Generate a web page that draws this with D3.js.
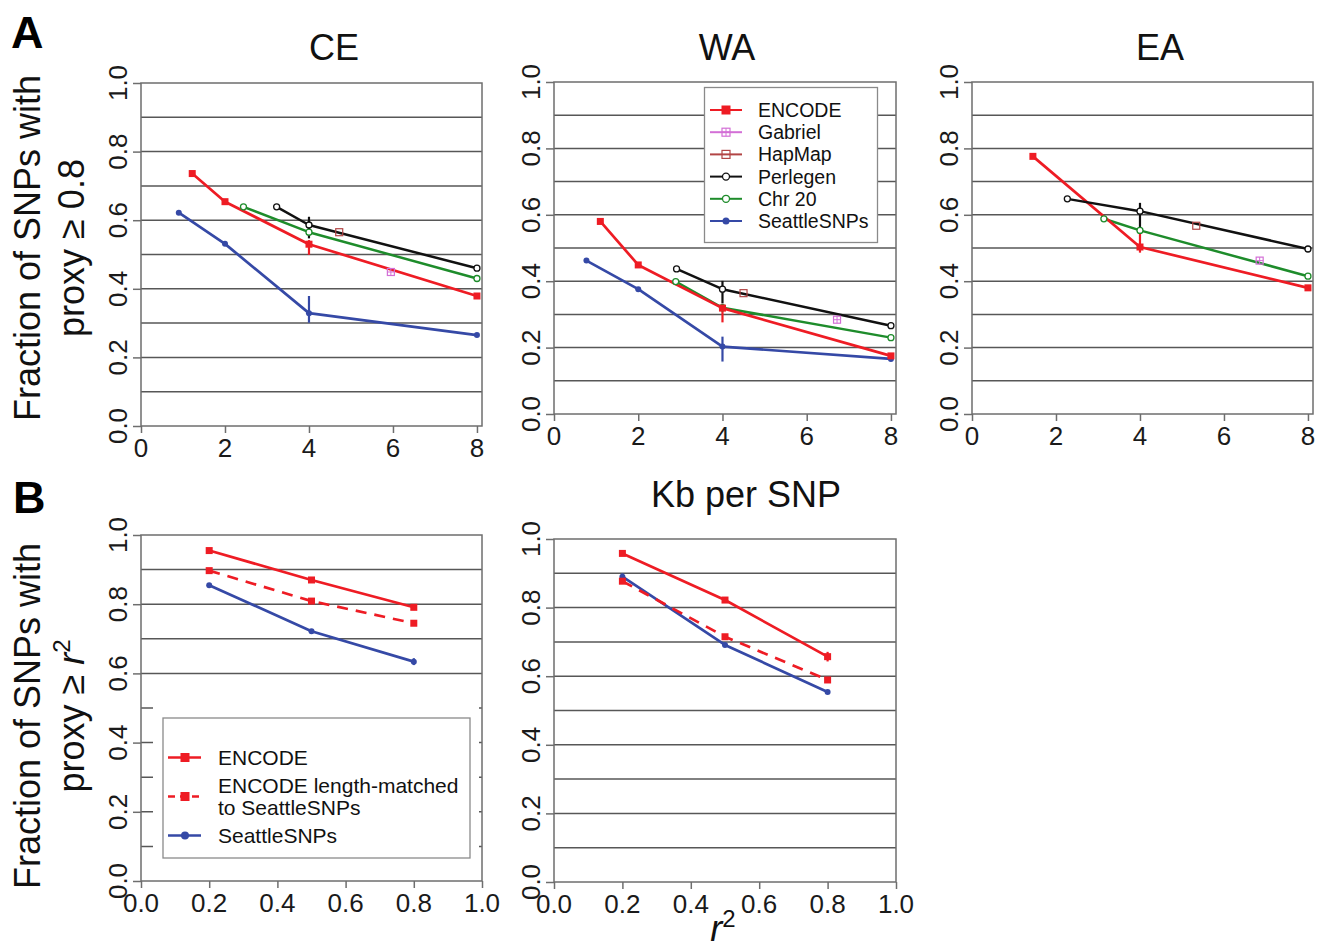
<!DOCTYPE html>
<html>
<head>
<meta charset="utf-8">
<script src="https://cdn.jsdelivr.net/npm/d3@7"></script>
<style>
  html, body { margin: 0; padding: 0; background: #fff; }
  svg { display: block; font-family: "Liberation Sans", Arial, Helvetica, sans-serif; }
</style>
</head>
<body>
<svg id="chart" width="1319" height="951"></svg>
<script>
// ---------- data ----------
const xTicksA = [0, 2, 4, 6, 8];
const xTicksB = [0.0, 0.2, 0.4, 0.6, 0.8, 1.0];
const yTicks = [0.0, 0.2, 0.4, 0.6, 0.8, 1.0];
const gridLevels = [0.1, 0.2, 0.3, 0.4, 0.5, 0.6, 0.7, 0.8, 0.9];
const populations = ["CE", "WA", "EA"];
const seriesA = ["ENCODE", "Gabriel", "HapMap", "Perlegen", "Chr 20", "SeattleSNPs"];
const seriesB = ["ENCODE", "ENCODE length-matched to SeattleSNPs", "SeattleSNPs"];

// Panel A: kb per SNP (x) vs fraction of SNPs with proxy r2 >= 0.8 (y)
const ceENCODE   = [[1.22, 0.736], [2.0, 0.654], [4.0, 0.530], [8.0, 0.379]];
const ceGabriel  = [[5.95, 0.449]];
const ceHapMap   = [[4.72, 0.565]];
const cePerlegen = [[3.23, 0.639], [4.0, 0.586], [8.0, 0.460]];
const ceChr20    = [[2.44, 0.639], [4.0, 0.565], [8.0, 0.430]];
const ceSeattle  = [[0.90, 0.622], [2.0, 0.531], [4.0, 0.329], [8.0, 0.265]];
const ceErrors   = [["ENCODE", 4, 0.499, 0.542], ["Perlegen", 4, 0.547, 0.610], ["SeattleSNPs", 4, 0.301, 0.379]];

const waENCODE   = [[1.10, 0.580], [2.0, 0.449], [4.0, 0.319], [8.0, 0.175]];
const waGabriel  = [[6.72, 0.284]];
const waHapMap   = [[4.50, 0.364]];
const waPerlegen = [[2.91, 0.437], [4.0, 0.376], [8.0, 0.266]];
const waChr20    = [[2.89, 0.399], [4.0, 0.320], [8.0, 0.230]];
const waSeattle  = [[0.77, 0.462], [2.0, 0.376], [4.0, 0.203], [8.0, 0.166]];
const waErrors   = [["ENCODE", 4, 0.276, 0.330], ["Perlegen", 4, 0.333, 0.401], ["SeattleSNPs", 4, 0.158, 0.233]];

const eaENCODE   = [[1.45, 0.776], [4.0, 0.503], [8.0, 0.380]];
const eaGabriel  = [[6.85, 0.462]];
const eaHapMap   = [[5.34, 0.567]];
const eaPerlegen = [[2.27, 0.648], [4.0, 0.611], [8.0, 0.497]];
const eaChr20    = [[3.14, 0.588], [4.0, 0.553], [8.0, 0.415]];
const eaSeattle  = [];
const eaErrors   = [["ENCODE", 4, 0.486, 0.550], ["Perlegen", 4, 0.554, 0.636]];

// Panel B: r2 threshold (x) vs fraction of SNPs with proxy >= r2 (y)
const r2Levels = [0.2, 0.5, 0.8];
const b1ENCODE  = [0.955, 0.870, 0.791];
const b1Matched = [0.897, 0.809, 0.745];
const b1Seattle = [0.855, 0.722, 0.634];
const b1Errors  = [["SeattleSNPs", 0.8, 0.624, 0.644], ["ENCODE", 0.8, 0.783, 0.799]];
const b2ENCODE  = [0.958, 0.822, 0.657];
const b2Matched = [0.877, 0.715, 0.589];
const b2Seattle = [0.890, 0.691, 0.554];
const b2Errors  = [["ENCODE", 0.8, 0.643, 0.671], ["SeattleSNPs", 0.2, 0.880, 0.900]];

// ---------- styles ----------
const style = {
  "ENCODE":      { color: "#ee1c24", marker: "squareFilled", width: 2.7 },
  "Gabriel":     { color: "#d36fd6", marker: "squareCross",  width: 2 },
  "HapMap":      { color: "#b24545", marker: "squareOpen",   width: 2 },
  "Perlegen":    { color: "#111111", marker: "circleOpen",   width: 2.5 },
  "Chr 20":      { color: "#1e8c2b", marker: "circleOpen",   width: 2.5 },
  "SeattleSNPs": { color: "#3549a6", marker: "circleFilled", width: 2.7 },
  "ENCODE length-matched to SeattleSNPs": { color: "#ee1c24", marker: "squareFilled", width: 2.7, dash: "11,8" }
};
const gridColor = "#575757";
const frameColor = "#6e6e6e";
const FONT = "'Liberation Sans', Arial, Helvetica, sans-serif";

const svg = d3.select("#chart");

function drawMarker(g, kind, color, x, y, size) {
  const s = size || 8;
  if (kind === "squareFilled") {
    g.append("rect").attr("x", x - s / 2).attr("y", y - s / 2).attr("width", s).attr("height", s)
      .attr("fill", color);
  } else if (kind === "squareOpen" || kind === "squareCross") {
    g.append("rect").attr("x", x - s / 2).attr("y", y - s / 2).attr("width", s).attr("height", s)
      .attr("fill", "none").attr("stroke", color).attr("stroke-width", 1.2);
    if (kind === "squareCross") {
      g.append("path").attr("d", `M${x - s / 2},${y}H${x + s / 2}M${x},${y - s / 2}V${y + s / 2}`)
        .attr("stroke", color).attr("stroke-width", 1);
    }
  } else if (kind === "circleOpen") {
    g.append("circle").attr("cx", x).attr("cy", y).attr("r", s / 2 - 0.5)
      .attr("fill", "#fff").attr("stroke", color).attr("stroke-width", 1.3);
  } else if (kind === "circleFilled") {
    g.append("circle").attr("cx", x).attr("cy", y).attr("r", s / 2 - 0.5).attr("fill", color);
  }
}

function drawPanel(opt) {
  const g = svg.append("g");
  const x = d3.scaleLinear().domain(opt.xDomain).range([opt.l, opt.r]);
  const y = d3.scaleLinear().domain([0, 1]).range([opt.b, opt.t]);

  // horizontal grid
  g.selectAll("line.grid").data(gridLevels).enter().append("line")
    .attr("x1", opt.l).attr("x2", opt.r)
    .attr("y1", d => y(d)).attr("y2", d => y(d))
    .attr("stroke", gridColor).attr("stroke-width", 1.5);

  // outward tick marks on the left axis
  const yAxis = d3.axisLeft(y).tickValues(yTicks).tickSize(8).tickFormat("");
  g.append("g").attr("transform", `translate(${opt.l},0)`).call(yAxis)
    .call(s => s.select(".domain").remove())
    .call(s => s.selectAll("line").attr("stroke", frameColor).attr("stroke-width", 1.5));
  // outward tick marks on the bottom axis
  const xAxis = d3.axisBottom(x).tickValues(opt.xTicks).tickSize(7).tickFormat("");
  g.append("g").attr("transform", `translate(0,${opt.b})`).call(xAxis)
    .call(s => s.select(".domain").remove())
    .call(s => s.selectAll("line").attr("stroke", frameColor).attr("stroke-width", 1.5));

  // rotated y tick labels
  g.selectAll("text.ytl").data(yTicks).enter().append("text")
    .attr("transform", d => `translate(${opt.l - 14},${y(d)}) rotate(-90)`)
    .attr("text-anchor", "middle").attr("font-size", 26).attr("fill", "#1a1a1a")
    .attr("font-family", FONT)
    .text(d => d.toFixed(1));
  // x tick labels
  g.selectAll("text.xtl").data(opt.xTicks).enter().append("text")
    .attr("x", d => x(d)).attr("y", opt.b + 31)
    .attr("text-anchor", "middle").attr("font-size", 26).attr("fill", "#1a1a1a")
    .attr("font-family", FONT)
    .text(d => opt.xFormat(d));

  // plot frame
  g.append("rect").attr("x", opt.l).attr("y", opt.t)
    .attr("width", opt.r - opt.l).attr("height", opt.b - opt.t)
    .attr("fill", "none").attr("stroke", frameColor).attr("stroke-width", 1.5);

  if (opt.cover) {
    g.append("rect").attr("x", opt.cover[0]).attr("y", opt.cover[1])
      .attr("width", opt.cover[2]).attr("height", opt.cover[3]).attr("fill", "#fff");
  }

  // series lines
  const line = d3.line().x(d => x(d[0])).y(d => y(d[1]));
  opt.series.forEach(s => {
    const st = style[s.name];
    if (s.points.length > 1) {
      g.append("path").attr("d", line(s.points))
        .attr("fill", "none").attr("stroke", st.color).attr("stroke-width", st.width)
        .attr("stroke-dasharray", st.dash || null).attr("stroke-linejoin", "round");
    }
  });
  // error bars
  opt.errors.forEach(e => {
    const st = style[e[0]];
    g.append("line").attr("x1", x(e[1])).attr("x2", x(e[1]))
      .attr("y1", y(e[2])).attr("y2", y(e[3]))
      .attr("stroke", st.color).attr("stroke-width", 2.2);
  });
  // markers
  opt.series.forEach(s => {
    const st = style[s.name];
    s.points.forEach(p => drawMarker(g, st.marker, st.color, x(p[0]), y(p[1]), opt.markerSize));
  });

  return { g, x, y };
}

// ---------- panel A ----------
const fmtInt = d => String(d);
const fmtOne = d => d.toFixed(1);
const panelA = [
  { l: 141, r: 482, t: 83, b: 426, title: populations[0], tx: 334,
    data: [ceENCODE, ceGabriel, ceHapMap, cePerlegen, ceChr20, ceSeattle], errors: ceErrors },
  { l: 554, r: 896, t: 82, b: 414, title: populations[1], tx: 727,
    data: [waENCODE, waGabriel, waHapMap, waPerlegen, waChr20, waSeattle], errors: waErrors },
  { l: 972, r: 1313, t: 82, b: 414, title: populations[2], tx: 1160,
    data: [eaENCODE, eaGabriel, eaHapMap, eaPerlegen, eaChr20, eaSeattle], errors: eaErrors }
];
// draw in stacking order: Gabriel/HapMap singles, Seattle, Chr 20, ENCODE, Perlegen
const orderA = [1, 2, 5, 4, 0, 3];
panelA.forEach(p => {
  drawPanel({
    l: p.l, r: p.r, t: p.t, b: p.b, xDomain: [0, 8.12], xTicks: xTicksA, xFormat: fmtInt,
    series: orderA.map(i => ({ name: seriesA[i], points: p.data[i] })),
    errors: p.errors, markerSize: 7
  });
  svg.append("text").attr("x", p.tx).attr("y", 60).attr("text-anchor", "middle")
    .attr("font-size", 36).attr("font-family", FONT).attr("fill", "#111").text(p.title);
});

// legend for panel A (inside WA)
{
  const lg = svg.append("g");
  lg.append("rect").attr("x", 704.5).attr("y", 87.5).attr("width", 173).attr("height", 155)
    .attr("fill", "#fff").attr("stroke", "#8a8a8a").attr("stroke-width", 1.3);
  seriesA.forEach((name, i) => {
    const st = style[name];
    const yy = 110 + i * 22.2;
    lg.append("line").attr("x1", 710).attr("x2", 742).attr("y1", yy).attr("y2", yy)
      .attr("stroke", st.color).attr("stroke-width", 2);
    drawMarker(lg, st.marker, st.color, 726, yy, name === "ENCODE" ? 9 : 8);
    lg.append("text").attr("x", 758).attr("y", yy + 7).attr("font-size", 19.5)
      .attr("font-family", FONT).attr("fill", "#111").text(name);
  });
}

// ---------- panel B ----------
const toPts = vals => vals.map((v, i) => [r2Levels[i], v]);
drawPanel({
  l: 141, r: 482, t: 535, b: 881, xDomain: [0, 1], xTicks: xTicksB, xFormat: fmtOne,
  series: [
    { name: seriesB[2], points: toPts(b1Seattle) },
    { name: seriesB[1], points: toPts(b1Matched) },
    { name: seriesB[0], points: toPts(b1ENCODE) }
  ],
  errors: b1Errors, markerSize: 7, cover: [153, 690, 326, 185]
});
drawPanel({
  l: 554, r: 896, t: 539, b: 882, xDomain: [0, 1], xTicks: xTicksB, xFormat: fmtOne,
  series: [
    { name: seriesB[2], points: toPts(b2Seattle) },
    { name: seriesB[1], points: toPts(b2Matched) },
    { name: seriesB[0], points: toPts(b2ENCODE) }
  ],
  errors: b2Errors, markerSize: 7
});
svg.append("text").attr("x", 746).attr("y", 507).attr("text-anchor", "middle")
  .attr("font-size", 36).attr("font-family", FONT).attr("fill", "#111").text("Kb per SNP");

// legend for panel B
{
  const lg = svg.append("g");
  lg.append("rect").attr("x", 163).attr("y", 718).attr("width", 307).attr("height", 140)
    .attr("fill", "#fff").attr("stroke", "#8a8a8a").attr("stroke-width", 1.3);
  const rows = [
    { name: seriesB[0], y: 757.5, lines: ["ENCODE"] },
    { name: seriesB[1], y: 796.5, lines: ["ENCODE length-matched", "to SeattleSNPs"] },
    { name: seriesB[2], y: 835.5, lines: ["SeattleSNPs"] }
  ];
  rows.forEach(r => {
    const st = style[r.name];
    lg.append("line").attr("x1", 168).attr("x2", 201).attr("y1", r.y).attr("y2", r.y)
      .attr("stroke", st.color).attr("stroke-width", 2.6)
      .attr("stroke-dasharray", st.dash ? "7,5" : null);
    drawMarker(lg, st.marker, st.color, 185, r.y, 9);
    const t = lg.append("text").attr("x", 218).attr("font-size", 21)
      .attr("font-family", FONT).attr("fill", "#111");
    if (r.lines.length === 1) {
      t.attr("y", r.y + 7.5).text(r.lines[0]);
    } else {
      t.attr("y", r.y - 4);
      t.append("tspan").attr("x", 218).text(r.lines[0]);
      t.append("tspan").attr("x", 218).attr("dy", 22.5).text(r.lines[1]);
    }
  });
}

// shared x-axis title for panel B
{
  const t = svg.append("text").attr("x", 723).attr("y", 941).attr("text-anchor", "middle")
    .attr("font-size", 36).attr("font-family", FONT).attr("fill", "#111");
  t.append("tspan").attr("font-style", "italic").text("r");
  t.append("tspan").attr("font-size", 24).attr("dy", -14).text("2");
}

// ---------- y-axis titles ----------
function yTitle(cy, line2) {
  svg.append("text").attr("transform", `translate(40,${cy}) rotate(-90)`)
    .attr("text-anchor", "middle").attr("font-size", 36).attr("font-family", FONT)
    .attr("fill", "#111").text("Fraction of SNPs with");
  const t = svg.append("text").attr("transform", `translate(84,${cy}) rotate(-90)`)
    .attr("text-anchor", "middle").attr("font-size", 36).attr("font-family", FONT)
    .attr("fill", "#111");
  line2(t);
}
yTitle(248, t => t.text("proxy \u2265 0.8"));
yTitle(716, t => {
  t.append("tspan").text("proxy \u2265 ");
  t.append("tspan").attr("font-style", "italic").text("r");
  t.append("tspan").attr("font-size", 24).attr("dy", -14).text("2");
});

// panel letters
svg.append("text").attr("x", 11).attr("y", 48).attr("font-size", 45).attr("font-weight", "bold")
  .attr("font-family", FONT).attr("fill", "#000").text("A");
svg.append("text").attr("x", 13).attr("y", 513).attr("font-size", 45).attr("font-weight", "bold")
  .attr("font-family", FONT).attr("fill", "#000").text("B");
</script>
</body>
</html>
